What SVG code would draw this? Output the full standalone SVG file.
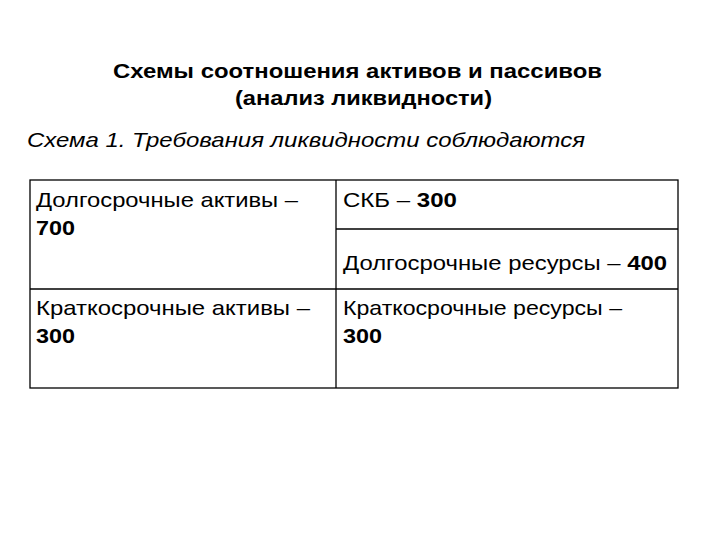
<svg xmlns="http://www.w3.org/2000/svg" width="720" height="540" viewBox="0 0 720 540">
<style>
text{font-family:"Liberation Sans",Arial,sans-serif;fill:#000}
.t{font-size:21px;font-weight:bold}
.s{font-size:21px;font-style:italic}
.c{font-size:21px}
.b{font-weight:bold}
.ln{stroke:#000;stroke-width:1.3;fill:none}
</style>
<rect width="720" height="540" fill="#fff"/>
<g id="title">
<text class="t" x="113" y="78" textLength="489" lengthAdjust="spacingAndGlyphs">Схемы соотношения активов и пассивов</text>
<text class="t" x="235" y="105" textLength="257" lengthAdjust="spacingAndGlyphs">(анализ ликвидности)</text>
</g>
<g id="subtitle">
<text class="s" x="27" y="147" textLength="558" lengthAdjust="spacingAndGlyphs">Схема 1. Требования ликвидности соблюдаются</text>
</g>
<g id="table">
<rect class="ln" x="30" y="180" width="648" height="208" stroke-width="2"/>
<line class="ln" x1="336" y1="180" x2="336" y2="388"/>
<line class="ln" x1="30" y1="289" x2="678" y2="289"/>
<line class="ln" x1="336" y1="229" x2="678" y2="229"/>
</g>
<g id="cell-long-assets">
<text class="c" x="36" y="207" textLength="262" lengthAdjust="spacingAndGlyphs">Долгосрочные активы –</text>
<text class="c b" x="36" y="235" textLength="39" lengthAdjust="spacingAndGlyphs">700</text>
</g>
<g id="cell-skb">
<text class="c" x="343" y="207" textLength="114" lengthAdjust="spacingAndGlyphs">СКБ – <tspan class="b">300</tspan></text>
</g>
<g id="cell-long-res">
<text class="c" x="343" y="270" textLength="324" lengthAdjust="spacingAndGlyphs">Долгосрочные ресурсы – <tspan class="b">400</tspan></text>
</g>
<g id="cell-short-assets">
<text class="c" x="36" y="315" textLength="274" lengthAdjust="spacingAndGlyphs">Краткосрочные активы –</text>
<text class="c b" x="36" y="343" textLength="39" lengthAdjust="spacingAndGlyphs">300</text>
</g>
<g id="cell-short-res">
<text class="c" x="343" y="315" textLength="279" lengthAdjust="spacingAndGlyphs">Краткосрочные ресурсы –</text>
<text class="c b" x="343" y="343" textLength="39" lengthAdjust="spacingAndGlyphs">300</text>
</g>
</svg>
